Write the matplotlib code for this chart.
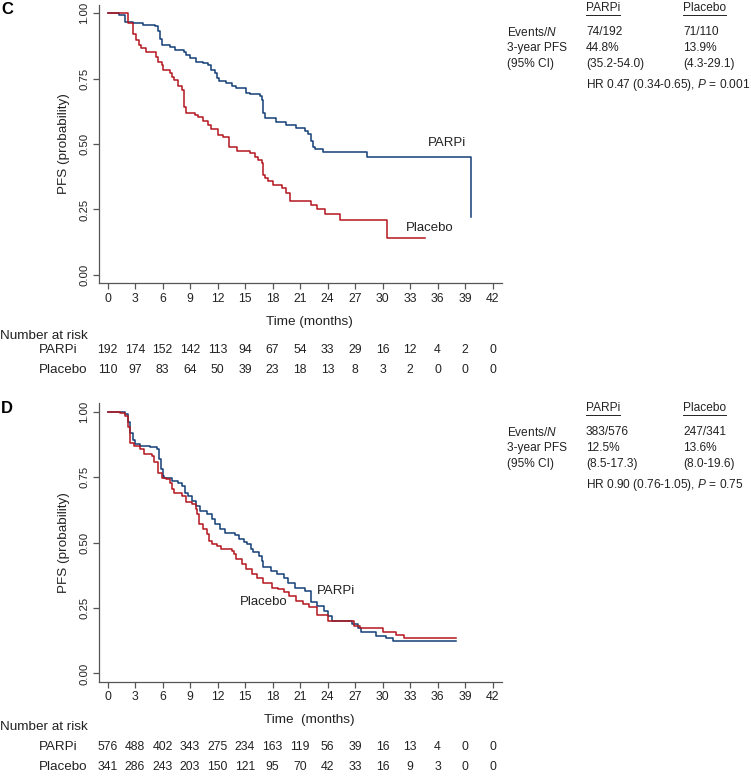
import matplotlib
matplotlib.use("Agg")
import matplotlib.pyplot as plt
from matplotlib.lines import Line2D

plt.rcParams['font.family'] = ['Liberation Sans', 'DejaVu Sans']
plt.rcParams['mathtext.fontset'] = 'custom'
plt.rcParams['mathtext.rm'] = 'Liberation Sans'
plt.rcParams['mathtext.it'] = 'Liberation Sans:italic'

BLUE = '#123f77'
RED = '#b3161e'
GREY = '#555555'

# ---------------- data: panel C ----------------
c_parpi_t = [0, 1.2, 1.9, 2.8, 3.9, 5.2, 5.5, 5.7, 5.9, 6.8, 7.4, 8.3, 8.6, 9.0, 9.7,
             10.4, 11.0, 11.3, 11.7, 11.9, 12.2, 12.9, 13.6, 14.0, 15.1, 15.5, 16.6,
             16.8, 17.0, 17.2, 18.4, 19.5, 20.6, 21.5, 21.9, 22.2, 22.4, 22.6, 23.5,
             28.3, 39.7]
c_parpi_s = [1.0, 0.993, 0.967, 0.963, 0.954, 0.949, 0.93, 0.90, 0.878, 0.871, 0.859,
             0.853, 0.840, 0.827, 0.814, 0.810, 0.802, 0.782, 0.771, 0.751, 0.740,
             0.734, 0.721, 0.713, 0.696, 0.690, 0.685, 0.667, 0.62, 0.598, 0.583,
             0.573, 0.561, 0.550, 0.537, 0.51, 0.49, 0.480, 0.470, 0.450, 0.222]

c_placebo_t = [0, 2.2, 2.8, 3.1, 3.4, 3.7, 4.2, 5.3, 5.5, 5.9, 6.1, 6.8, 7.0, 7.2, 7.7,
               8.1, 8.3, 8.6, 9.5, 9.9, 10.4, 11.0, 11.3, 12.1, 12.6, 13.3, 14.1, 15.5,
               16.1, 16.4, 16.8, 17.0, 17.2, 17.5, 18.1, 19.0, 19.5, 19.9, 22.2, 22.8,
               23.7, 25.4, 30.5, 34.6]
c_placebo_s = [1.0, 0.963, 0.922, 0.897, 0.878, 0.865, 0.852, 0.833, 0.814, 0.802,
               0.782, 0.772, 0.757, 0.744, 0.721, 0.706, 0.642, 0.617, 0.611, 0.604,
               0.589, 0.573, 0.557, 0.534, 0.525, 0.490, 0.474, 0.464, 0.452, 0.439,
               0.426, 0.382, 0.369, 0.357, 0.344, 0.331, 0.314, 0.282, 0.267, 0.251,
               0.233, 0.210, 0.140, 0.140]

c_risk_parpi = [192, 174, 152, 142, 113, 94, 67, 54, 33, 29, 16, 12, 4, 2, 0]
c_risk_placebo = [110, 97, 83, 64, 50, 39, 23, 18, 13, 8, 3, 2, 0, 0, 0]
c_stats_parpi = ['74/192', '44.8%', '(35.2-54.0)']
c_stats_placebo = ['71/110', '13.9%', '(4.3-29.1)']
c_hr = 'HR 0.47 (0.34-0.65), $\\it{P}$ = 0.001'

# ---------------- data: panel D ----------------
d_parpi_t = [0, 1.2, 1.9, 2.2, 2.5, 2.8, 3.0, 3.5, 4.6, 5.35, 5.6, 5.8, 6.0, 6.2, 7.0,
             7.7, 8.1, 8.4, 8.8, 9.2, 9.7, 10.1, 10.8, 11.4, 11.7, 12.3, 12.8, 13.9,
             14.3, 14.9, 15.2, 15.6, 15.9, 16.5, 16.9, 17.0, 17.8, 18.5, 19.2, 19.7,
             20.4, 21.5, 22.2, 22.8, 23.6, 24.1, 24.5, 26.7, 27.3, 27.6, 29.3, 30.4,
             31.1, 38.0]
d_parpi_s = [1.0, 0.997, 0.99, 0.96, 0.92, 0.89, 0.876, 0.870, 0.863, 0.857, 0.82,
             0.78, 0.755, 0.748, 0.736, 0.729, 0.716, 0.691, 0.678, 0.659, 0.640,
             0.621, 0.608, 0.589, 0.570, 0.551, 0.538, 0.528, 0.513, 0.503, 0.494,
             0.475, 0.462, 0.449, 0.430, 0.405, 0.392, 0.379, 0.366, 0.347, 0.328,
             0.316, 0.271, 0.258, 0.239, 0.220, 0.201, 0.189, 0.173, 0.157, 0.144,
             0.134, 0.125, 0.125]

d_placebo_t = [0, 1.4, 1.9, 2.2, 2.5, 2.9, 3.5, 4.0, 4.8, 5.1, 5.5, 5.9, 6.4, 6.8, 7.0,
               7.3, 8.1, 8.6, 9.2, 9.6, 9.8, 10.0, 10.4, 10.9, 11.1, 11.4, 11.9, 12.4,
               13.6, 13.8, 14.0, 14.7, 15.1, 15.8, 16.3, 17.0, 17.9, 18.6, 19.3, 19.8,
               20.6, 21.3, 22.0, 22.8, 24.1, 26.9, 27.5, 30.1, 31.5, 32.3, 38.0]
d_placebo_s = [1.0, 0.995, 0.985, 0.94, 0.882, 0.869, 0.857, 0.837, 0.831, 0.806,
               0.767, 0.748, 0.742, 0.729, 0.704, 0.691, 0.678, 0.653, 0.646, 0.627,
               0.608, 0.570, 0.551, 0.532, 0.506, 0.494, 0.487, 0.475, 0.468, 0.456,
               0.437, 0.418, 0.399, 0.379, 0.366, 0.347, 0.328, 0.322, 0.309, 0.297,
               0.278, 0.265, 0.252, 0.224, 0.201, 0.182, 0.173, 0.160, 0.148, 0.134,
               0.134]

d_risk_parpi = [576, 488, 402, 343, 275, 234, 163, 119, 56, 39, 16, 13, 4, 0, 0]
d_risk_placebo = [341, 286, 243, 203, 150, 121, 95, 70, 42, 33, 16, 9, 3, 0, 0]
d_stats_parpi = ['383/576', '12.5%', '(8.5-17.3)']
d_stats_placebo = ['247/341', '13.6%', '(8.0-19.6)']
d_hr = 'HR 0.90 (0.76-1.05), $\\it{P}$ = 0.75'

risk_times = list(range(0, 43, 3))
y_ticks = [0.0, 0.25, 0.5, 0.75, 1.0]
row_names = ['Events/$\\it{N}$', '3-year PFS', '(95% CI)']

W, H = 751, 777
fig = plt.figure(figsize=(W / 100, H / 100), dpi=100)
TXT = '#222222'


def fx(px):
    return px / W


def fy(py):
    return 1 - py / H


def km_panel(top_px, letter, p_t, p_s, pl_t, pl_s, p_lab, pl_lab, xlabel,
             risk_p, risk_pl, stats_p, stats_pl, hr, text_y):
    bot_px = top_px + 278
    ax = fig.add_axes([fx(99.3), fy(bot_px), fx(501.7) - fx(99.3), (bot_px - top_px) / H])
    ax.step(p_t, p_s, where='post', color=BLUE, lw=1.1)
    ax.step(pl_t, pl_s, where='post', color=RED, lw=1.1)
    ax.set_xlim(-0.9, 43.0)
    ax.set_ylim(-0.031, 1.031)
    ax.set_xticks(risk_times)
    ax.set_yticks(y_ticks)
    ax.set_yticklabels(['%.2f' % v for v in y_ticks], rotation=90, va='center')
    for s in ['top', 'right']:
        ax.spines[s].set_visible(False)
    for s in ['left', 'bottom']:
        ax.spines[s].set_color(GREY)
        ax.spines[s].set_linewidth(0.9)
    ax.tick_params(colors=GREY, labelcolor=TXT, length=4, width=0.9, pad=3)
    ax.tick_params(axis='x', labelsize=8.8)
    ax.tick_params(axis='y', labelsize=8.2)
    ax.set_ylabel('PFS (probability)', fontsize=9.7, color=TXT, labelpad=7)
    ax.text(*p_lab[1:], p_lab[0], fontsize=9.5, color=TXT, ha='left', va='center')
    ax.text(*pl_lab[1:], pl_lab[0], fontsize=9.5, color=TXT, ha='left', va='center')

    fig.text(fx(1), fy(top_px + 5), letter, fontsize=12, fontweight='bold', va='center')

    # time label and risk table
    fig.text(fx(309), fy(bot_px + xlabel[1]), xlabel[0], fontsize=9.7, color=TXT,
             ha='center', va='center')
    fig.text(fx(0), fy(bot_px + xlabel[2]), 'Number at risk', fontsize=9.7, color=TXT,
             va='center')
    for name, row, dy in [('PARPi', risk_p, xlabel[3]), ('Placebo', risk_pl, xlabel[4])]:
        fig.text(fx(39), fy(bot_px + dy), name, fontsize=9.6, color=TXT, va='center')
        for t, n in zip(risk_times, row):
            xp = ax.transData.transform((t, 0))[0]
            fig.text(xp / W, fy(bot_px + dy), str(n), fontsize=8.8, color=TXT,
                     ha='center', va='center')

    # summary table
    heads = []
    for hx, head in [(586, 'PARPi'), (683, 'Placebo')]:
        heads.append(fig.text(fx(hx), fy(text_y), head, fontsize=8.6, color=TXT,
                              va='center'))
    rows_y = [text_y + 24, text_y + 40, text_y + 56]
    for ry, rn, a, b in zip(rows_y, row_names, stats_p, stats_pl):
        fig.text(fx(507), fy(ry), rn, fontsize=8.6, color=TXT, va='center')
        fig.text(fx(586), fy(ry), a, fontsize=8.6, color=TXT, va='center')
        fig.text(fx(683), fy(ry), b, fontsize=8.6, color=TXT, va='center')
    fig.text(fx(586), fy(text_y + 77), hr, fontsize=8.6, color=TXT, va='center')
    return heads


heads = []
heads += km_panel(5, 'C', c_parpi_t, c_parpi_s, c_placebo_t, c_placebo_s,
                  ('PARPi', 35.0, 0.505), ('Placebo', 32.6, 0.18),
                  ('Time (months)', 39, 53, 67, 87),
                  c_risk_parpi, c_risk_placebo, c_stats_parpi, c_stats_placebo, c_hr, 8)
heads += km_panel(403.5, 'D', d_parpi_t, d_parpi_s, d_placebo_t, d_placebo_s,
                  ('PARPi', 22.8, 0.313), ('Placebo', 14.4, 0.272),
                  ('Time  (months)', 38, 45, 66, 86),
                  d_risk_parpi, d_risk_placebo, d_stats_parpi, d_stats_placebo, d_hr, 408)

# underline the column headers
fig.canvas.draw()
r = fig.canvas.get_renderer()
for t in heads:
    bb = t.get_window_extent(r)
    yline = bb.y0 - 1.0
    fig.add_artist(Line2D([bb.x0 / W, bb.x1 / W], [yline / H, yline / H],
                          color=TXT, lw=0.7))

fig.savefig('out.png', dpi=100)
